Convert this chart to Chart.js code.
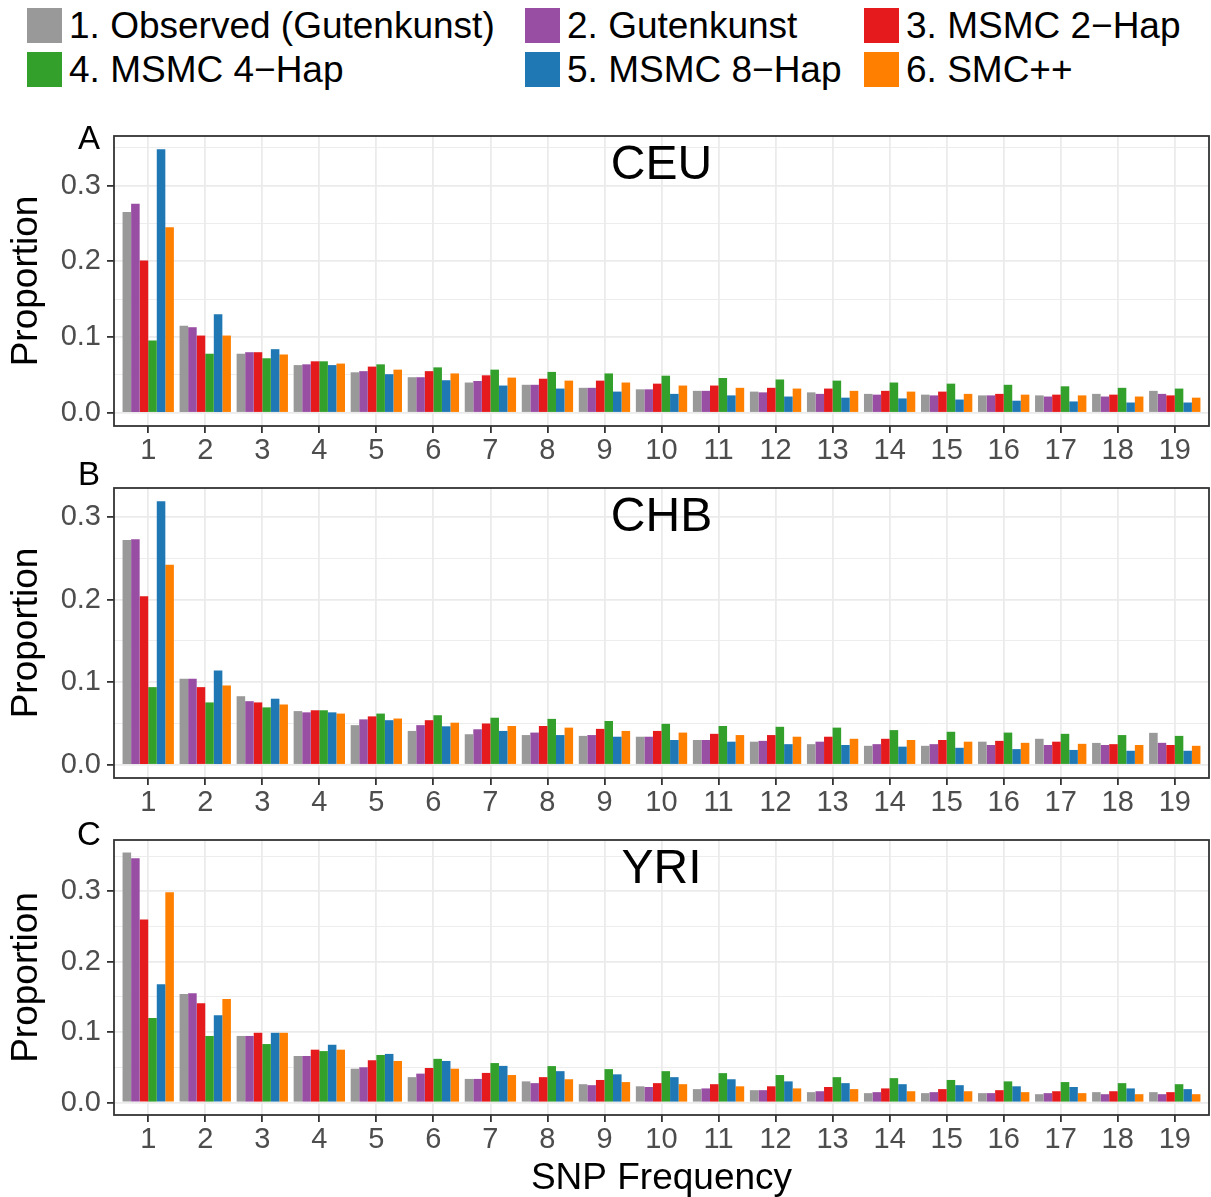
<!DOCTYPE html>
<html>
<head>
<meta charset="utf-8">
<script src="https://cdn.jsdelivr.net/npm/chart.js@4"></script>
<style>
  html, body { margin: 0; padding: 0; background: #ffffff; }
  #page { position: relative; width: 1211px; height: 1197px; overflow: hidden; font-family: 'Liberation Sans', Arial, sans-serif; }
  canvas { position: absolute; left: 0; }
  .lg { position: absolute; height: 35px; line-height: 35px; font-size: 37px; color: #000; white-space: nowrap; }
  .lg i { display: inline-block; width: 35px; height: 35px; vertical-align: top; margin-right: 7px; }
</style>
</head>
<body>
<div id="page">
  <div id="legend"></div>
  <canvas id="panelA" width="1211" height="370" style="top:100px"></canvas>
  <canvas id="panelB" width="1211" height="366" style="top:456px"></canvas>
  <canvas id="panelC" width="1211" height="389" style="top:808px"></canvas>
</div>
<script>
(function () {
    'use strict';

    // categories (SNP frequency)
    var CATS = [1, 2, 3, 4, 5, 6, 7, 8, 9, 10, 11, 12, 13, 14, 15, 16, 17, 18, 19];
    var SERIES = ['1. Observed (Gutenkunst)', '2. Gutenkunst', '3. MSMC 2\u2212Hap', '4. MSMC 4\u2212Hap', '5. MSMC 8\u2212Hap', '6. SMC++'];
    var Y_TICKS = [0, 0.05, 0.1, 0.15, 0.2, 0.25, 0.3, 0.35];

    // A: CEU
    var ceuObserved = [0.265, 0.115, 0.078, 0.063, 0.0535, 0.047, 0.040, 0.037, 0.033, 0.031, 0.029, 0.028, 0.027, 0.025, 0.024, 0.023, 0.023, 0.025, 0.029];
    var ceuGutenkunst = [0.276, 0.113, 0.080, 0.064, 0.055, 0.047, 0.042, 0.037, 0.033, 0.031, 0.029, 0.027, 0.025, 0.024, 0.023, 0.023, 0.0215, 0.0215, 0.025];
    var ceuMsmc2 = [0.201, 0.102, 0.080, 0.068, 0.061, 0.055, 0.0495, 0.045, 0.0425, 0.0385, 0.036, 0.033, 0.032, 0.029, 0.028, 0.025, 0.024, 0.024, 0.023];
    var ceuMsmc4 = [0.0955, 0.078, 0.072, 0.068, 0.064, 0.060, 0.057, 0.054, 0.052, 0.049, 0.046, 0.044, 0.0425, 0.040, 0.0385, 0.037, 0.035, 0.033, 0.032];
    var ceuMsmc8 = [0.348, 0.130, 0.084, 0.063, 0.051, 0.043, 0.036, 0.032, 0.028, 0.025, 0.023, 0.0215, 0.020, 0.019, 0.0175, 0.016, 0.015, 0.0136, 0.0136];
    var ceuSmc = [0.245, 0.102, 0.077, 0.065, 0.057, 0.052, 0.0465, 0.0425, 0.040, 0.036, 0.033, 0.032, 0.029, 0.028, 0.025, 0.024, 0.023, 0.0215, 0.020];

    // B: CHB
    var chbObserved = [0.272, 0.104, 0.083, 0.065, 0.048, 0.041, 0.037, 0.036, 0.035, 0.034, 0.030, 0.028, 0.025, 0.023, 0.023, 0.028, 0.0315, 0.0265, 0.0387];
    var chbGutenkunst = [0.273, 0.104, 0.077, 0.0635, 0.055, 0.048, 0.043, 0.039, 0.036, 0.034, 0.030, 0.029, 0.028, 0.025, 0.025, 0.024, 0.024, 0.024, 0.0266];
    var chbMsmc2 = [0.204, 0.094, 0.0755, 0.066, 0.0586, 0.054, 0.050, 0.047, 0.0435, 0.041, 0.0375, 0.036, 0.034, 0.0315, 0.030, 0.029, 0.028, 0.025, 0.024];
    var chbMsmc4 = [0.094, 0.0755, 0.0695, 0.066, 0.062, 0.060, 0.057, 0.0556, 0.053, 0.0496, 0.047, 0.046, 0.045, 0.042, 0.040, 0.039, 0.0375, 0.036, 0.035];
    var chbMsmc8 = [0.319, 0.114, 0.080, 0.0635, 0.054, 0.0466, 0.041, 0.036, 0.034, 0.030, 0.028, 0.025, 0.024, 0.022, 0.0206, 0.019, 0.018, 0.017, 0.017];
    var chbSmc = [0.242, 0.096, 0.073, 0.062, 0.056, 0.051, 0.047, 0.045, 0.041, 0.039, 0.036, 0.034, 0.0315, 0.030, 0.028, 0.0266, 0.0254, 0.024, 0.023];

    // C: YRI
    var yriObserved = [0.355, 0.154, 0.0945, 0.066, 0.048, 0.036, 0.0335, 0.030, 0.026, 0.023, 0.019, 0.0175, 0.0147, 0.0133, 0.0133, 0.0133, 0.0118, 0.0147, 0.0147];
    var yriGutenkunst = [0.347, 0.155, 0.0945, 0.066, 0.050, 0.041, 0.0335, 0.0275, 0.0246, 0.022, 0.020, 0.0175, 0.016, 0.0147, 0.0147, 0.0133, 0.0133, 0.0118, 0.0118];
    var yriMsmc2 = [0.260, 0.141, 0.099, 0.075, 0.060, 0.049, 0.042, 0.036, 0.032, 0.0275, 0.026, 0.023, 0.022, 0.020, 0.019, 0.0175, 0.016, 0.016, 0.0147];
    var yriMsmc4 = [0.120, 0.0945, 0.083, 0.073, 0.0675, 0.062, 0.056, 0.0517, 0.0474, 0.0445, 0.0417, 0.039, 0.036, 0.0346, 0.032, 0.030, 0.029, 0.0275, 0.026];
    var yriMsmc8 = [0.168, 0.124, 0.099, 0.082, 0.069, 0.059, 0.052, 0.0445, 0.040, 0.036, 0.033, 0.030, 0.0275, 0.026, 0.0246, 0.023, 0.022, 0.020, 0.019];
    var yriSmc = [0.2985, 0.147, 0.099, 0.075, 0.059, 0.048, 0.039, 0.033, 0.029, 0.026, 0.023, 0.020, 0.019, 0.016, 0.016, 0.0147, 0.0133, 0.0118, 0.0118];

    var COLORS = ['#999999', '#984EA3', '#E41A1C', '#33A02C', '#1F78B4', '#FF7F00'];
    var FONT = "'Liberation Sans', Arial, sans-serif";
    var AXIS_TEXT = '#4D4D4D';
    var GRID = '#EBEBEB';
    var DARK = '#333333';

    function isMajor(v) {
        return Math.round(v * 100) % 10 === 0;
    }

    function buildLegend() {
        var cols = [27, 525, 864];
        var rows = [8, 52];
        var host = document.getElementById('legend');
        SERIES.forEach(function (name, i) {
            var el = document.createElement('div');
            el.className = 'lg';
            el.style.left = cols[i % 3] + 'px';
            el.style.top = rows[Math.floor(i / 3)] + 'px';
            var sw = document.createElement('i');
            sw.style.background = COLORS[i];
            el.appendChild(sw);
            el.appendChild(document.createTextNode(name));
            host.appendChild(el);
        });
    }

    var panelDeco = {
        id: 'panelDeco',
        afterDatasetsDraw: function (chart, args, opts) {
            var a = chart.chartArea;
            var ctx = chart.ctx;
            ctx.save();
            ctx.strokeStyle = DARK;
            ctx.lineWidth = 1.8;
            ctx.strokeRect(a.left, a.top, a.right - a.left, a.bottom - a.top);

            ctx.fillStyle = '#000000';
            ctx.textAlign = 'center';
            ctx.textBaseline = 'middle';
            ctx.font = '48px ' + FONT;
            ctx.fillText(opts.title, (a.left + a.right) / 2, a.top + 30);

            ctx.font = '33px ' + FONT;
            ctx.fillText(opts.letter, 89, opts.letterY);
            ctx.restore();
        }
    };

    function makePanel(id, series, deco, padTop, xHeight, showXTitle) {
        var dataMax = Math.max.apply(null, series.map(function (s) { return Math.max.apply(null, s); }));

        var datasets = series.map(function (vals, i) {
            return {
                label: SERIES[i],
                data: CATS.map(function (c, k) { return { x: c, y: vals[k] }; }),
                backgroundColor: COLORS[i],
                borderWidth: 0,
                categoryPercentage: 0.9,
                barPercentage: 1.0
            };
        });

        return new Chart(document.getElementById(id), {
            type: 'bar',
            data: { datasets: datasets },
            plugins: [panelDeco],
            options: {
                responsive: false,
                animation: false,
                events: [],
                layout: { padding: { top: padTop, right: 2, left: 0, bottom: 0 } },
                plugins: {
                    legend: { display: false },
                    tooltip: { enabled: false },
                    panelDeco: deco
                },
                scales: {
                    x: {
                        type: 'linear',
                        min: 0.4,
                        max: 19.6,
                        offset: false,
                        afterBuildTicks: function (scale) {
                            scale.ticks = CATS.map(function (c) { return { value: c }; });
                        },
                        afterFit: function (scale) { scale.height = xHeight; },
                        grid: {
                            offset: false,
                            color: GRID,
                            lineWidth: 1.8,
                            drawTicks: true,
                            tickLength: 7,
                            tickColor: DARK,
                            tickWidth: 1.8
                        },
                        border: { display: false },
                        ticks: {
                            autoSkip: false,
                            maxRotation: 0,
                            padding: 1,
                            color: AXIS_TEXT,
                            font: { family: FONT, size: 29 },
                            callback: function (v) { return String(v); }
                        },
                        title: {
                            display: showXTitle,
                            text: 'SNP Frequency',
                            color: '#000000',
                            font: { family: FONT, size: 37, lineHeight: 1 },
                            padding: { top: 0, bottom: 0 }
                        }
                    },
                    y: {
                        type: 'linear',
                        min: -0.05 * dataMax,
                        max: 1.05 * dataMax,
                        afterBuildTicks: function (scale) {
                            scale.ticks = Y_TICKS.filter(function (v) { return v <= scale.max; })
                                .map(function (v) { return { value: v }; });
                        },
                        afterFit: function (scale) { scale.width = 114; },
                        grid: {
                            color: GRID,
                            lineWidth: function (c) { return c.tick && isMajor(c.tick.value) ? 1.8 : 0.9; },
                            drawTicks: true,
                            tickLength: 7,
                            tickColor: function (c) { return c.tick && isMajor(c.tick.value) ? DARK : 'rgba(0,0,0,0)'; },
                            tickWidth: 1.8
                        },
                        border: { display: false },
                        ticks: {
                            padding: 6,
                            color: AXIS_TEXT,
                            font: { family: FONT, size: 29 },
                            callback: function (v) { return isMajor(v) ? v.toFixed(1) : ''; }
                        },
                        title: {
                            display: true,
                            text: 'Proportion',
                            color: '#000000',
                            font: { family: FONT, size: 37, lineHeight: 1 },
                            padding: { top: 8, bottom: 0 }
                        }
                    }
                }
            }
        });
    }

    function init() {
        buildLegend();
        makePanel('panelA', [ceuObserved, ceuGutenkunst, ceuMsmc2, ceuMsmc4, ceuMsmc8, ceuSmc],
            { title: 'CEU', letter: 'A', letterY: 40 }, 36, 44, false);
        makePanel('panelB', [chbObserved, chbGutenkunst, chbMsmc2, chbMsmc4, chbMsmc8, chbSmc],
            { title: 'CHB', letter: 'B', letterY: 20 }, 32, 44, false);
        makePanel('panelC', [yriObserved, yriGutenkunst, yriMsmc2, yriMsmc4, yriMsmc8, yriSmc],
            { title: 'YRI', letter: 'C', letterY: 28 }, 32, 82, true);
    }

    init();
})();
</script>
</body>
</html>
